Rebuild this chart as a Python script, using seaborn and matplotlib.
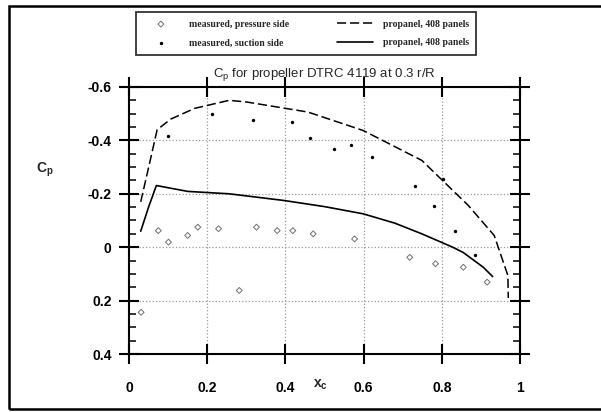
import matplotlib
matplotlib.use("Agg")
import pandas as pd
import matplotlib.pyplot as plt
import seaborn as sns
from matplotlib.patches import Rectangle

# propanel result, suction side (upper curve)
x_calc_upper = [0.03, 0.055, 0.072, 0.107, 0.168, 0.256, 0.30, 0.396, 0.458,
                0.599, 0.749, 0.868, 0.934, 0.969, 0.97]
cp_calc_upper = [-0.17, -0.33, -0.44, -0.48, -0.52, -0.55, -0.544, -0.521, -0.506,
                 -0.437, -0.325, -0.156, -0.044, 0.106, 0.19]

# propanel result, pressure side (lower curve)
x_calc_lower = [0.03, 0.05, 0.07, 0.15, 0.256, 0.396, 0.50, 0.599, 0.68, 0.749,
                0.828, 0.855, 0.906, 0.93]
cp_calc_lower = [-0.06, -0.15, -0.231, -0.209, -0.2, -0.175, -0.152, -0.125, -0.09,
                 -0.05, 0.0, 0.02, 0.075, 0.11]

# measured, suction side
x_meas_suction = [0.101, 0.211, 0.317, 0.416, 0.463, 0.524, 0.568, 0.621, 0.731,
                  0.802, 0.780, 0.833, 0.885]
cp_meas_suction = [-0.416, -0.50, -0.475, -0.469, -0.41, -0.369, -0.384, -0.338,
                   -0.231, -0.256, -0.156, -0.062, 0.031]

# measured, pressure side
x_meas_pressure = [0.031, 0.075, 0.101, 0.150, 0.176, 0.229, 0.282, 0.326, 0.379,
                   0.419, 0.471, 0.577, 0.718, 0.784, 0.855, 0.916]
cp_meas_pressure = [0.244, -0.062, -0.019, -0.044, -0.075, -0.069, 0.162, -0.075,
                    -0.062, -0.062, -0.05, -0.031, 0.038, 0.062, 0.075, 0.131]

x_ticks = [0, 0.2, 0.4, 0.6, 0.8, 1]
x_ticklabels = ["0", "0.2", "0.4", "0.6", "0.8", "1"]
y_ticks = [-0.6, -0.4, -0.2, 0, 0.2, 0.4]
y_ticklabels = ["-0.6", "-0.4", "-0.2", "0", "0.2", "0.4"]

sns.set_style("ticks")
plt.rcParams["font.family"] = ["Liberation Sans", "DejaVu Sans"]
plt.rcParams["mathtext.fontset"] = "custom"
plt.rcParams["mathtext.rm"] = "Liberation Sans"
plt.rcParams["mathtext.bf"] = "Liberation Sans:bold"

fig = plt.figure(figsize=(6.01, 4.12), dpi=100)
ax = fig.add_axes([129 / 601, 1 - 354 / 412, 391 / 601, 267 / 412])

# grid
for gx in [0.2, 0.4, 0.6, 0.8]:
    ax.axvline(gx, color="#9a9a9a", ls=":", lw=0.9, zorder=0)
for gy in [-0.4, -0.2, 0, 0.2]:
    ax.axhline(gy, color="#9a9a9a", ls=":", lw=0.9, zorder=0)

sns.scatterplot(x=x_meas_pressure, y=cp_meas_pressure, ax=ax, marker="D", s=9,
                facecolor="none", edgecolor="#707070", linewidth=0.7,
                label="measured, pressure side")
sns.scatterplot(x=x_meas_suction, y=cp_meas_suction, ax=ax, marker="o", s=6,
                color="black", linewidth=0, label="measured, suction side")
sns.lineplot(x=x_calc_upper, y=cp_calc_upper, ax=ax, sort=False, color="black",
             lw=1.1, linestyle=(0, (6, 2.5)), label="propanel, 408 panels")
sns.lineplot(x=x_calc_lower, y=cp_calc_lower, ax=ax, sort=False, color="black",
             lw=1.2, label="propanel, 408 panels")

handles, labels = ax.get_legend_handles_labels()
if ax.get_legend() is not None:
    ax.get_legend().remove()

ax.set_xlim(0, 1)
ax.set_ylim(0.4, -0.6)
ax.set_xticks(x_ticks)
ax.set_xticklabels(x_ticklabels, fontweight="bold", fontsize=10)
ax.set_yticks(y_ticks)
ax.set_yticklabels(y_ticklabels, fontweight="bold", fontsize=10)
ax.set_yticks([-0.55, -0.5, -0.45, -0.35, -0.3, -0.25, -0.15, -0.1, -0.05,
               0.05, 0.1, 0.15, 0.25, 0.3, 0.35], minor=True)
ax.tick_params(which="major", direction="inout", length=15, width=1.5,
               top=True, right=True, colors="black")
ax.tick_params(axis="x", which="major", pad=12)
ax.tick_params(axis="y", which="major", pad=5)
ax.tick_params(which="minor", direction="in", length=5, width=1.3, right=True)
for s in ax.spines.values():
    s.set_linewidth(1.5)
    s.set_color("black")
    s.set_visible(True)

ax.set_title(r"C$_\mathrm{p}$ for propeller DTRC 4119 at 0.3 r/R", fontsize=9.5, pad=7)
ax.text(0.49, -0.117, r"$\mathbf{x_c}$", transform=ax.transAxes, ha="center",
        va="center", fontsize=10)
ax.text(-0.215, 0.69, r"$\mathbf{C_p}$", transform=ax.transAxes, ha="center",
        va="center", fontsize=10)

leg = fig.legend(handles, labels, loc="center", bbox_to_anchor=(306 / 601, 1 - 33.5 / 412),
                 ncol=2, frameon=True, fancybox=False, shadow=False, handlelength=3.7,
                 handletextpad=1.0, columnspacing=5.0, labelspacing=1.0, borderpad=0.75,
                 prop={"family": "Liberation Serif", "weight": "bold", "size": 7})
leg.get_frame().set_edgecolor("black")
leg.get_frame().set_linewidth(1.3)

# outer frame of the scanned figure
fig.add_artist(Rectangle((9 / 601, 1 - 409 / 412), 610 / 601, 403 / 412,
                         transform=fig.transFigure, fill=False, lw=1.8,
                         edgecolor="black"))

fig.savefig("out.png", dpi=100)
